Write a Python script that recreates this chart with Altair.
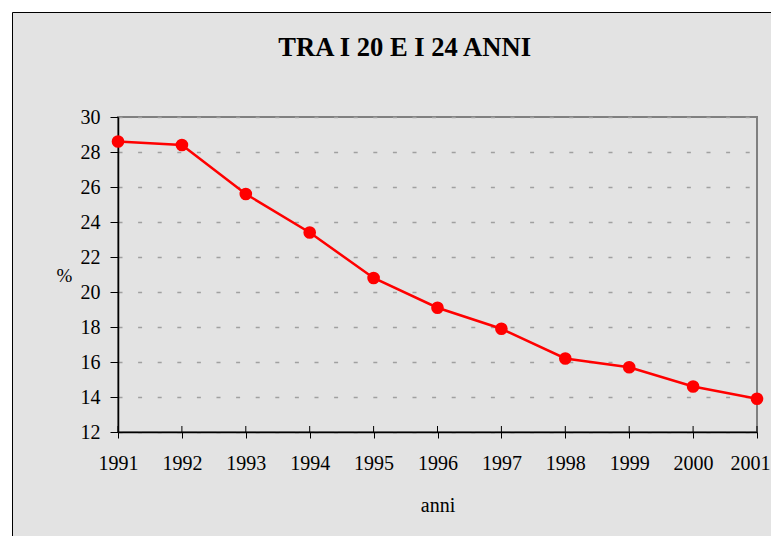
import altair as alt
import pandas as pd

years = [1991, 1992, 1993, 1994, 1995, 1996, 1997, 1998, 1999, 2000, 2001]
values = [28.6, 28.4, 25.6, 23.4, 20.8, 19.1, 17.9, 16.2, 15.7, 14.6, 13.9]
y_ticks = [12, 14, 16, 18, 20, 22, 24, 26, 28, 30]
title_text = "TRA I 20 E I 24 ANNI"
x_title = "anni"
y_title = "%"

df = pd.DataFrame({"anno": years, "valore": values})
one = pd.DataFrame({"k": [0]})

W, H = 639, 315
FONT = "Liberation Serif"
BG = "#e3e3e3"

x_enc = alt.X(
    "anno:Q",
    scale=alt.Scale(domain=[1991, 2001], nice=False, zero=False),
    axis=alt.Axis(
        values=years, format="d", title=x_title, grid=False,
        tickSize=6, tickColor="black", tickWidth=1,
        domainColor="black", domainWidth=1.5,
        labelFont=FONT, labelFontSize=20, labelColor="black", labelPadding=15,
        labelOverlap=False, labelFlush=False,
        labelOffset={"condition": {"test": "datum.value == 2001", "value": -7}, "value": 0},
        titleFont=FONT, titleFontSize=20, titleFontWeight="normal", titleColor="black",
        titleX=W / 2, titleY=79, titleAlign="center", titleBaseline="alphabetic",
    ),
)
y_enc = alt.Y(
    "valore:Q",
    scale=alt.Scale(domain=[12, 30], nice=False, zero=False),
    axis=alt.Axis(
        values=y_ticks, title=y_title, grid=True,
        gridDash=[4, 15.6], gridColor="#a0a0a0", gridWidth=1.5,
        tickSize=8, tickColor="black", tickWidth=1,
        domainColor="black", domainWidth=1.5,
        labelFont=FONT, labelFontSize=20, labelColor="black", labelPadding=10,
        labelOverlap=False, labelFlush=False,
        titleFont=FONT, titleFontSize=19, titleFontWeight="normal", titleColor="black",
        titleAngle=0, titleX=-54, titleY=H / 2 + 1, titleAlign="center", titleBaseline="middle",
    ),
)

white_band = alt.Chart(one).mark_rect(filled=False, stroke="white", strokeWidth=8).encode(
    x=alt.value(-110), x2=alt.value(800), y=alt.value(-109), y2=alt.value(600)
)
frame = alt.Chart(one).mark_rect(filled=False, stroke="black", strokeWidth=1).encode(
    x=alt.value(-105.5), x2=alt.value(800), y=alt.value(-104.5), y2=alt.value(600)
)

inner_ticks = alt.Chart(df).mark_rule(color="black", strokeWidth=1).encode(
    x=x_enc, y=alt.value(H - 6), y2=alt.value(H)
)
line = alt.Chart(df).mark_line(color="#ff0000", strokeWidth=2.5).encode(x=x_enc, y=y_enc)
points = alt.Chart(df).mark_point(filled=True, color="#ff0000", size=160, opacity=1).encode(
    x=x_enc, y=y_enc
)
title = alt.Chart(one).mark_text(
    text=title_text, font=FONT, fontSize=26.6, fontWeight="bold",
    align="center", baseline="alphabetic", color="black",
).encode(x=alt.value(286.7), y=alt.value(-61.3))

chart = alt.layer(white_band, frame, inner_ticks, line, points, title).properties(
    width=W, height=H,
    autosize=alt.AutoSizeParams(type="none"),
    padding={"left": 110, "top": 109, "right": 14, "bottom": 104},
    background=BG,
).configure_view(
    fill=None, stroke="#808080", strokeWidth=2
)

chart.save("out.html", embed_options={"renderer": "svg", "actions": False})
